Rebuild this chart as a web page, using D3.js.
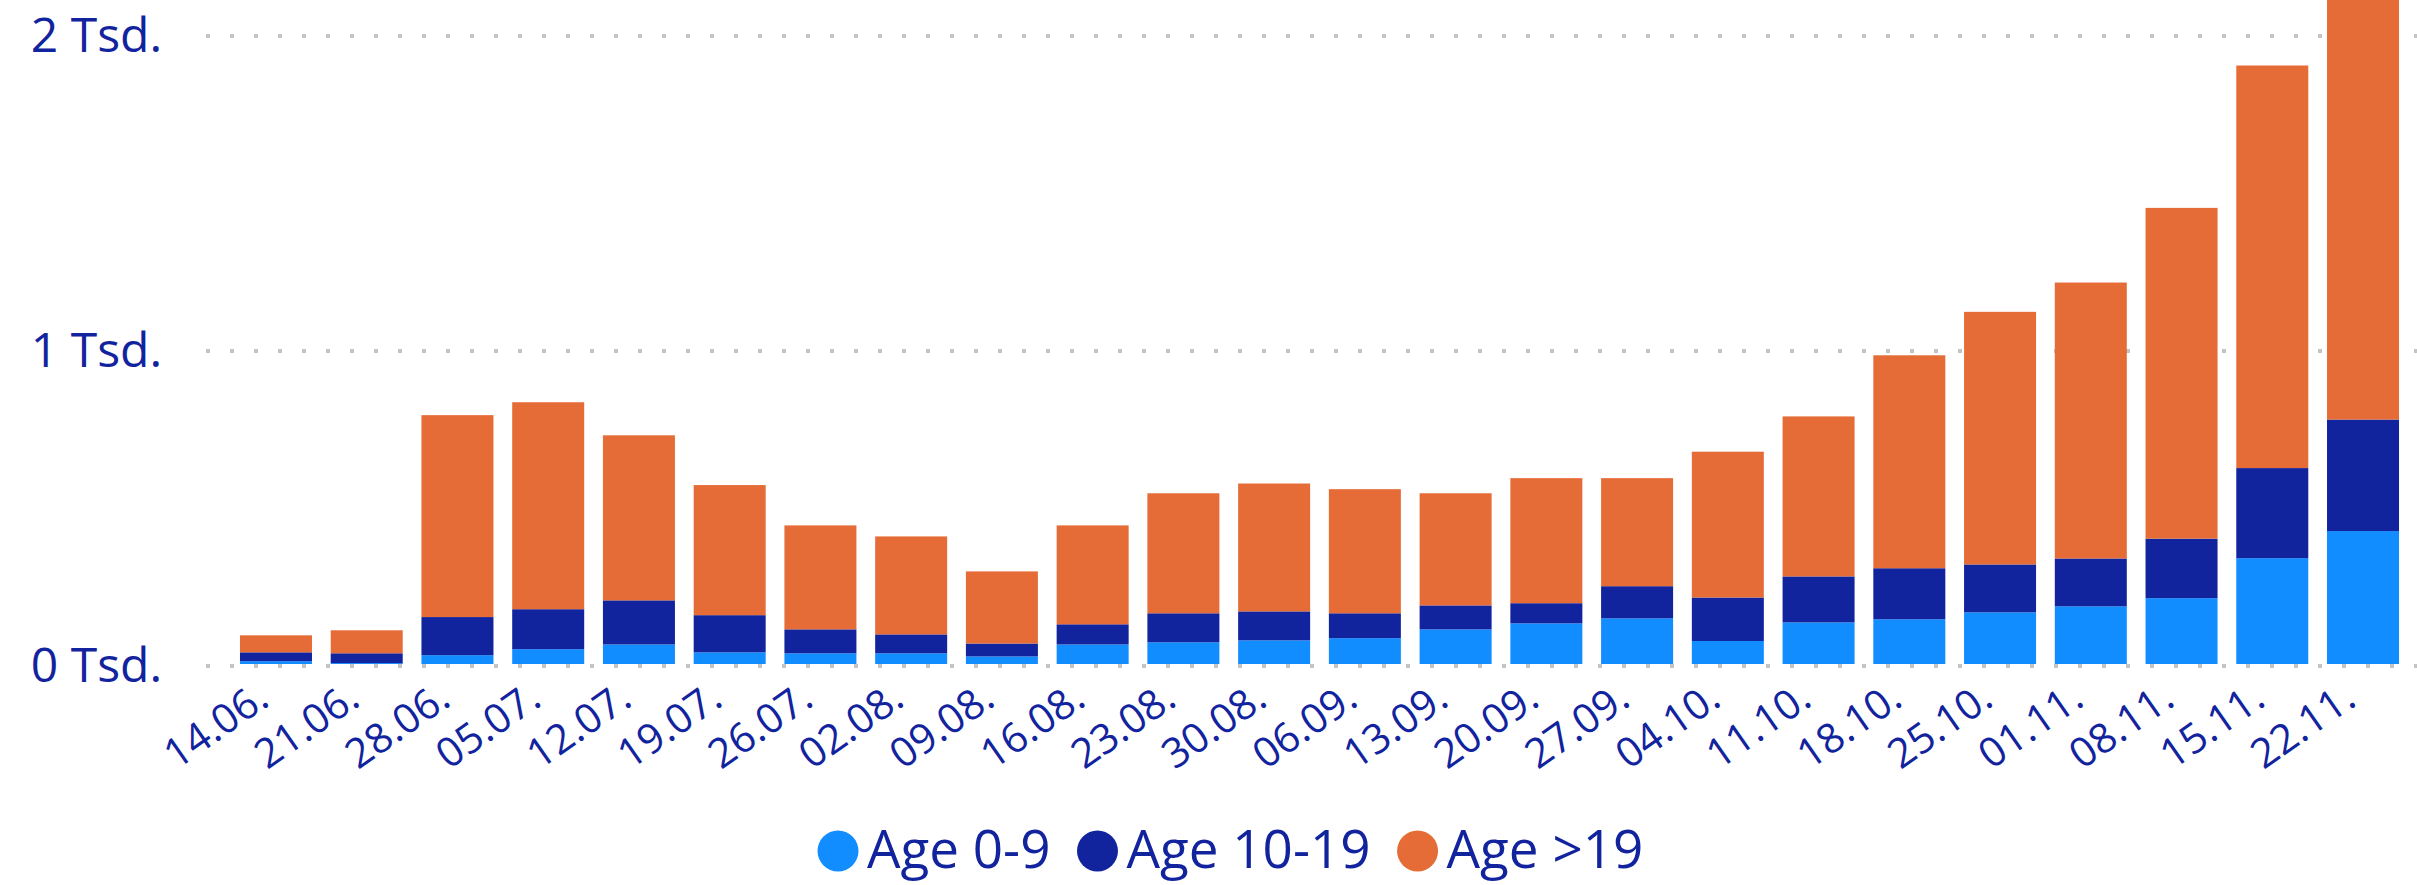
<!DOCTYPE html>
<html>
<head>
<meta charset="utf-8">
<script src="https://d3js.org/d3.v7.min.js"></script>
<style>
  body { margin: 0; background: #fff; }
  text { font-family: "Segoe UI", "Open Sans", sans-serif; fill: #12239E; }
</style>
</head>
<body>
<div id="chart"></div>
<script>

// week labels
var weeks = ["14.06.", "21.06.", "28.06.", "05.07.", "12.07.", "19.07.", "26.07.", "02.08.",
             "09.08.", "16.08.", "23.08.", "30.08.", "06.09.", "13.09.", "20.09.", "27.09.",
             "04.10.", "11.10.", "18.10.", "25.10.", "01.11.", "08.11.", "15.11.", "22.11."];

// cases per age group
var age0to9   = [9, 3, 28, 47, 62, 37, 34, 34, 24, 62, 69, 75, 82, 110, 129, 145, 73, 132, 142, 164, 183, 209, 336, 422];
var age10to19 = [28, 31, 121, 127, 140, 118, 76, 60, 41, 64, 92, 92, 79, 76, 64, 102, 138, 146, 162, 152, 152, 189, 286, 354];
var ageOver19 = [54, 73, 641, 657, 524, 413, 330, 311, 229, 314, 381, 406, 394, 356, 397, 343, 463, 508, 676, 802, 876, 1050, 1278, 1345];

var seriesNames = ["Age 0-9", "Age 10-19", "Age >19"];
var yTicks = [0, 1000, 2000];

var colors = ["#118DFF", "#12239E", "#E66C37"];

// dimensions
var width = 2417,
    height = 885;

var svg = d3.select("#chart").append("svg")
    .attr("width", width)
    .attr("height", height);

// rows for the stack
var data = weeks.map(function(w, i) {
  return {week: w, a: age0to9[i], b: age10to19[i], c: ageOver19[i]};
});

var stack = d3.stack().keys(["a", "b", "c"]);
var series = stack(data);

// scales
var x = d3.scaleBand()
    .domain(weeks)
    .range([230.6, 2408.4])
    .paddingInner(0.2065)
    .paddingOuter(0.1033);

var y = d3.scaleLinear()
    .domain([0, 2000])
    .range([664, 34]);

// dotted gridlines
svg.append("g")
  .selectAll("line")
  .data(yTicks)
  .enter().append("line")
    .attr("x1", 206)
    .attr("x2", width)
    .attr("y1", function(d) { return y(d) + 2; })
    .attr("y2", function(d) { return y(d) + 2; })
    .style("stroke", "#c4c4c4")
    .style("stroke-width", 4)
    .style("stroke-dasharray", "4,20");

// y labels
svg.append("g")
  .selectAll("text")
  .data(yTicks)
  .enter().append("text")
    .attr("x", 162)
    .attr("y", function(d) { return y(d) + 1; })
    .attr("dy", "0.36em")
    .attr("text-anchor", "end")
    .style("font-size", "48px")
    .text(function(d) { return (d / 1000) + " Tsd."; });

// stacked bars
svg.append("g")
  .selectAll("g")
  .data(series)
  .enter().append("g")
    .style("fill", function(d, i) { return colors[i]; })
  .selectAll("rect")
  .data(function(d) { return d; })
  .enter().append("rect")
    .attr("x", function(d) { return x(d.data.week); })
    .attr("y", function(d) { return y(d[1]); })
    .attr("height", function(d) { return y(d[0]) - y(d[1]); })
    .attr("width", x.bandwidth());

// x labels, rotated
svg.append("g")
  .selectAll("text")
  .data(weeks)
  .enter().append("text")
    .attr("text-anchor", "end")
    .attr("transform", function(d) {
      return "translate(" + (x(d) + x.bandwidth() / 2 - 5) + ",704) rotate(-35)";
    })
    .style("font-size", "41px")
    .text(function(d) { return d; });

// legend
var legend = svg.append("g");
var lx = 817;
seriesNames.forEach(function(name, i) {
  legend.append("circle")
      .attr("cx", lx + 21)
      .attr("cy", 851)
      .attr("r", 20.5)
      .style("fill", colors[i]);
  var t = legend.append("text")
      .attr("x", lx + 50)
      .attr("y", 868)
      .style("font-size", "53px")
      .text(name);
  lx = lx + 50 + t.node().getComputedTextLength() + 26;
});

</script>
</body>
</html>
